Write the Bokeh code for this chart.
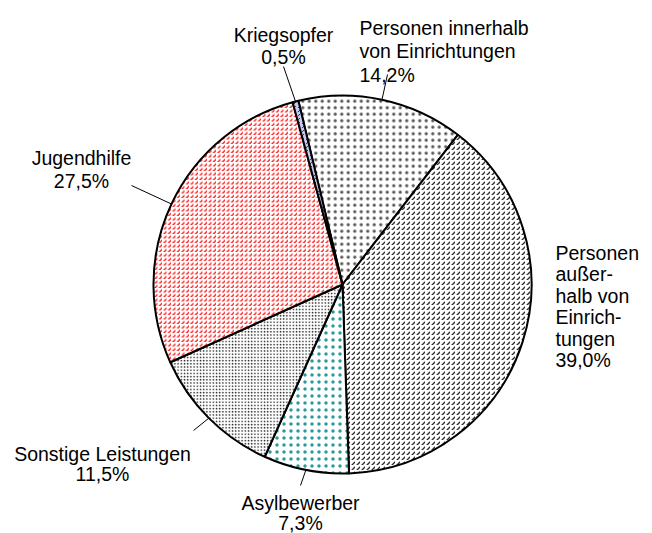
import math
from bokeh.plotting import figure
from bokeh.models import Range1d
from bokeh.core.properties import value
from bokeh.embed import file_html
from bokeh.resources import INLINE

# ---- data ----
categories = ["Personen innerhalb von Einrichtungen", "Personen außerhalb von Einrichtungen",
              "Asylbewerber", "Sonstige Leistungen", "Jugendhilfe", "Kriegsopfer"]
shares = [14.2, 39.0, 7.3, 11.5, 27.5, 0.5]
label_lines = [["Personen innerhalb", "von Einrichtungen"],
               ["Personen", "außer-", "halb von", "Einrich-", "tungen"],
               ["Asylbewerber"],
               ["Sonstige Leistungen"],
               ["Jugendhilfe"],
               ["Kriegsopfer"]]

# ---- styles / layout (page pixel coordinates, y downwards) ----
hatch_patterns = [".", ",", ".", ".", ",", ","]
hatch_colors = ["#555555", "#2e2e2e", "#2a9a9a", "#1a1a1a", "#ff1a1a", "#3030a0"]
hatch_scales = [6.5, 5, 7, 3.2, 4.5, 4]
hatch_weights = [0.6, 1.4, 0.7, 2.0, 1.4, 1.0]
fill_colors = ["white", "white", "white", "white", "white", "#c8c8f0"]
# label anchor: x, first baseline, alignment, line step, gap to percent line
label_pos = [(359, 27, "left", 23.3, 24.5),
             (555, 252, "left", 21.5, 21.5),
             (300, 502, "center", 20, 20),
             (102, 453, "center", 20.5, 20.5),
             (81, 157, "center", 23, 23),
             (283, 34, "center", 22.7, 22.7)]
leader_start = [(387, 74), None, (300, 485), (193, 430), (131, 185), (283, 66)]

CX, CY, R = 342, 284, 189
START = -13.5  # degrees clockwise from 12 o'clock

W, H = 652, 533
p = figure(width=W, height=H, x_range=Range1d(0, W), y_range=Range1d(-H, 0),
           output_backend="svg", toolbar_location=None, min_border=0)
p.axis.visible = False
p.grid.visible = False
p.outline_line_color = None
p.background_fill_color = "white"

FONT = value("Liberation Sans")
FS = "19.5px"

cum = START
for i, v in enumerate(shares):
    a0 = cum
    a1 = cum + v * 3.6
    cum = a1
    p.wedge(x=CX, y=-CY, radius=R,
            start_angle=math.radians(90 - a1), end_angle=math.radians(90 - a0),
            fill_color=fill_colors[i], line_color="black", line_width=2,
            hatch_pattern=hatch_patterns[i], hatch_color=hatch_colors[i],
            hatch_scale=hatch_scales[i], hatch_weight=hatch_weights[i])
    mid = math.radians((a0 + a1) / 2)
    ex = CX + R * math.sin(mid)
    ey = CY - R * math.cos(mid)
    if leader_start[i] is not None:
        sx, sy = leader_start[i]
        p.segment(x0=[sx], y0=[-sy], x1=[ex], y1=[-ey], line_color="black", line_width=1)
    lx, ly, al, step, gap = label_pos[i]
    xs, ys, ts = [], [], []
    y = ly
    for t in label_lines[i]:
        xs.append(lx); ys.append(-y); ts.append(t)
        y += step
    y += gap - step
    xs.append(lx); ys.append(-y); ts.append(f"{v:.1f}".replace(".", ",") + "%")
    p.text(x=xs, y=ys, text=ts, text_align=al, text_baseline="alphabetic",
           text_font=FONT, text_font_size=FS, text_color="black")

open("out.html", "w").write(file_html(p, INLINE))
